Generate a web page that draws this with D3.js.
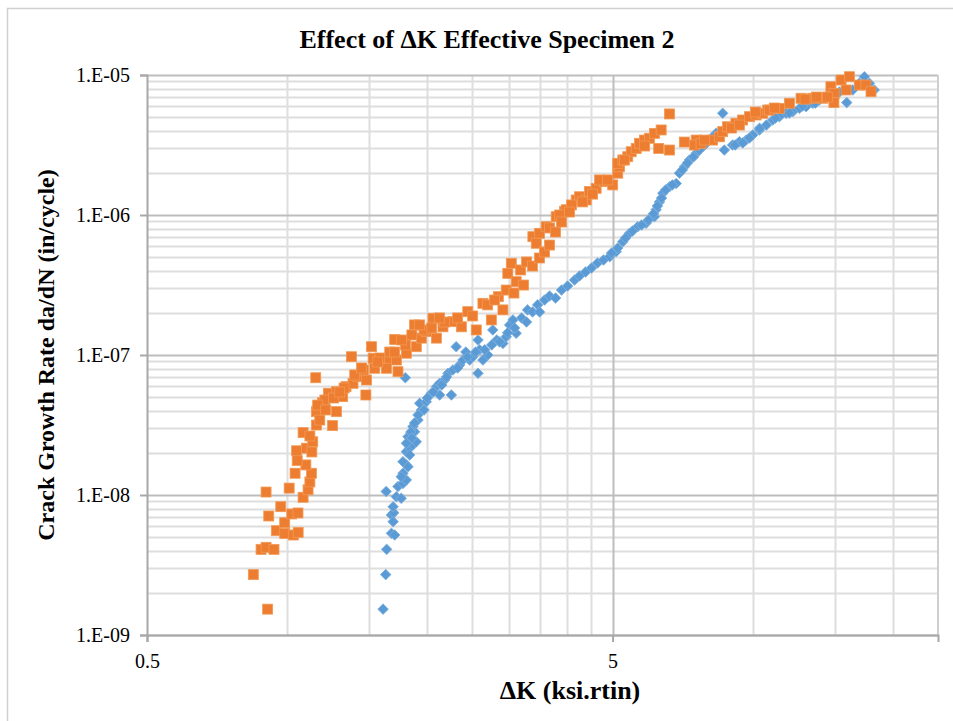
<!DOCTYPE html>
<html>
<head>
<meta charset="utf-8">
<script src="https://cdn.jsdelivr.net/npm/d3@7"></script>
<style>
  html, body { margin: 0; padding: 0; background: #fff; }
  svg { display: block; }
</style>
</head>
<body>
<svg id="chart" width="953" height="721"></svg>
<script>
// Crack growth data: [ΔK (ksi·√in), da/dN (in/cycle)]
const specimenBlue = [
  [1.607,1.53e-9],[1.628,2.70e-9],[1.636,4.09e-9],[1.632,1.06e-8],[1.675,5.32e-9],[1.702,5.18e-9],
  [1.675,7.2e-9],[1.694,7.47e-9],[1.689,8.25e-9],[1.689,6.45e-9],[1.716,9.72e-9],[1.758,9.47e-9],
  [1.73,1.15e-8],[1.773,1.21e-8],[1.803,1.28e-8],[1.773,1.43e-8],[1.758,1.35e-8],[1.803,1.64e-8],
  [1.773,1.73e-8],[1.818,1.59e-8],[1.803,2.04e-8],[1.833,2.16e-8],[1.863,2.28e-8],[1.894,2.40e-8],
  [1.794,6.88e-8],[1.942,4.05e-8],[1.926,4.52e-8],[1.99,4.64e-8],[2.041,5.33e-8],[2.092,5.94e-8],
  [2.126,6.28e-8],[2.18,6.63e-8],[2.216,7.4e-8],[2.253,5.18e-8],[2.27,7.82e-8],[2.307,1.146e-7],
  [2.347,8.48e-8],[2.386,9.21e-8],[2.466,9.21e-8],[2.506,9.72e-8],[2.57,7.4e-8],[2.57,1.28e-7],
  [2.633,9.21e-8],[2.698,1.0e-7],[2.765,1.51e-7],[2.907,1.21e-7],[2.955,1.35e-7],[3.005,1.64e-7],
  [3.055,1.78e-7],[3.104,1.43e-7],[1.878,2.83e-8],[1.863,3.08e-8],[1.818,2.61e-8],[1.803,2.34e-8],
  [3.188,1.84e-7],[3.284,2.1e-7],[3.366,2.03e-7],[3.452,2.28e-7],[3.572,2.47e-7],[3.661,2.64e-7],
  [3.771,2.55e-7],[3.885,2.91e-7],[4.003,3.11e-7],[4.143,3.43e-7],[4.246,3.67e-7],[4.375,3.92e-7],
  [4.505,4.18e-7],[4.641,4.54e-7],[4.781,4.77e-7],[3.485,2.03e-7],[3.267,1.72e-7],
  [4.93,5.04e-7],[5.09,5.47e-7],[5.26,6.45e-7],[5.437,7.4e-7],[5.66,8.25e-7],[5.9,8.73e-7],
  [6.15,9.72e-7],[6.2,1.09e-6],[6.305,1.24e-6],[6.41,1.43e-6],[6.624,1.59e-6],[6.85,1.68e-6],
  [6.96,1.99e-6],[7.13,2.21e-6],[7.31,2.47e-6],[7.56,2.76e-6],[7.81,3.08e-6],[8.07,3.43e-6],
  [8.34,3.83e-6],[8.62,5.33e-6],[8.69,2.91e-6],[9.05,3.16e-6],[9.36,3.34e-6],[9.68,3.43e-6],
  [10.0,3.73e-6],[10.34,4.05e-6],[10.7,4.39e-6],[10.34,4.16e-6],[11.04,4.77e-6],[11.41,5.04e-6],
  [11.8,5.33e-6],[12.19,5.47e-6],[12.6,5.78e-6],[13.02,5.94e-6],[13.46,6.28e-6],[13.9,6.63e-6],
  [14.37,7.0e-6],[14.84,7.4e-6],[15.92,6.35e-6],[16.4,7.82e-6],[16.94,8.73e-6],[17.37,9.72e-6],
  [17.8,8.73e-6],[18.24,7.82e-6],[2.42,1.05e-7],[2.591,1.09e-7],[2.82,1.28e-7],[2.126,5.18e-8],
  [1.968,4.05e-8],[1.91,3.43e-8],[1.843,2.82e-8],
  [4.975,5.35e-7],[5.13,5.81e-7],[5.33,6.85e-7],[5.52,7.69e-7],[5.77,8.48e-7],[5.97,9.21e-7],
  [6.12,1.02e-6],[6.24,1.16e-6],[6.37,1.32e-6],[6.5,1.51e-6],[6.72,1.64e-6],[7.06,2.1e-6],
  [7.24,2.35e-6],[7.46,2.6e-6],[7.68,2.91e-6],[7.92,3.21e-6],[8.2,3.6e-6],[9.17,3.16e-6],
  [9.52,3.27e-6],[9.84,3.55e-6],[2.324,8.08e-8],[2.44,9.68e-8],[2.54,1.05e-7],[2.656,1.09e-7],
  [2.75,1.18e-7],[2.86,1.24e-7],[2.975,1.44e-7],[3.08,1.56e-7],[2.0,4.93e-8],[2.06,5.44e-8],
  [2.148,6.1e-8],[2.2,6.96e-8],[1.833,1.93e-8],[1.853,2.55e-8],[1.878,3.27e-8],[1.91,3.73e-8],
  [11.19,4.93e-6],[11.99,5.35e-6],[12.79,6.0e-6],[13.63,6.3e-6],[14.6,7.08e-6],[15.35,7.56e-6]
];

const specimenOrange = [
  [0.908,1.53e-9],[0.846,2.70e-9],[0.879,4.09e-9],[0.901,4.23e-9],[0.937,4.09e-9],[0.948,5.56e-9],
  [0.988,5.32e-9],[1.031,5.18e-9],[1.056,5.41e-9],[0.988,6.34e-9],[0.913,7.08e-9],[0.969,8.25e-9],
  [1.023,7.32e-9],[1.055,7.44e-9],[0.901,1.05e-8],[1.01,1.12e-8],[1.082,9.63e-9],[1.109,1.09e-8],
  [1.119,1.24e-8],[1.128,1.43e-8],[1.04,1.43e-8],[1.097,1.64e-8],[1.051,1.76e-8],[1.048,2.07e-8],
  [1.1,2.16e-8],[1.135,2.40e-8],[1.082,2.79e-8],[1.156,3.16e-8],[1.252,3.13e-8],[1.156,3.94e-8],
  [1.191,4.56e-8],[1.226,5.33e-8],[1.276,3.94e-8],[1.152,6.88e-8],[1.276,5.47e-8],[1.316,5.04e-8],
  [1.338,5.94e-8],[1.374,9.72e-8],[1.385,6.28e-8],[1.419,7.0e-8],[1.48,6.63e-8],[1.476,5.18e-8],
  [1.458,7.82e-8],[1.518,1.146e-7],[1.53,9.47e-8],[1.542,8.04e-8],[1.634,9.21e-8],[1.634,8.04e-8],
  [1.702,1.29e-7],[1.73,7.6e-8],[1.716,9.21e-8],[1.803,1.03e-7],[1.894,1.146e-7],[1.878,1.64e-7],
  [1.942,1.32e-7],[1.99,1.47e-7],[2.057,1.83e-7],[2.092,1.32e-7],[2.161,1.59e-7],[2.27,1.73e-7],
  [2.367,1.59e-7],[2.443,2.04e-7],[2.548,1.51e-7],[2.633,2.34e-7],[2.745,1.78e-7],[2.842,2.61e-7],
  [2.907,2.1e-7],[2.955,2.91e-7],[2.978,3.83e-7],[3.03,4.52e-7],[3.104,3.34e-7],
  [3.173,4.05e-7],[3.267,4.62e-7],[3.366,4.32e-7],[3.485,4.93e-7],[3.22,3.16e-7],[3.07,2.77e-7],
  [3.371,7.0e-7],[3.485,7.4e-7],[3.428,6.28e-7],[3.6,8.25e-7],[3.783,9.72e-7],[3.942,1.06e-6],
  [3.975,1.09e-6],[4.176,1.28e-6],[4.246,1.35e-6],[4.39,1.28e-6],[4.461,1.47e-6],[4.609,1.55e-6],
  [4.803,1.73e-6],[5.003,1.64e-6],[5.13,1.99e-6],[5.175,2.21e-6],[5.13,2.34e-6],[5.26,2.47e-6],
  [5.39,2.61e-6],[5.483,2.83e-6],[5.62,2.99e-6],[5.712,3.25e-6],[5.855,3.43e-6],[6.0,3.53e-6],
  [6.15,3.83e-6],[6.358,4.05e-6],[6.28,2.99e-6],[6.624,2.91e-6],[6.624,5.27e-6],[7.56,3.43e-6],
  [7.5,3.16e-6],[7.745,3.25e-6],[8.2,3.43e-6],[8.48,3.62e-6],[8.62,3.94e-6],[8.83,4.27e-6],
  [9.2,4.52e-6],[9.51,4.77e-6],[9.84,5.04e-6],[10.17,5.18e-6],[10.51,5.33e-6],[10.77,5.62e-6],
  [10.86,5.62e-6],[11.41,5.78e-6],[11.99,6.28e-6],[12.7,6.82e-6],[13.46,6.82e-6],[14.13,6.82e-6],
  [14.72,8.25e-6],[14.96,7.4e-6],[14.94,6.35e-6],[15.48,9.21e-6],[16.13,9.72e-6],[15.87,7.82e-6],
  [16.94,8.48e-6],[17.5,8.48e-6],[17.95,7.6e-6],[12.95,6.72e-6],[13.7,6.96e-6],[14.46,6.96e-6],
  [11.13,5.81e-6],[10.13,5.44e-6],[4.08,1.18e-6],[3.847,1.0e-6],[3.661,8.08e-7],[4.687,1.78e-6],
  [1.795,1.18e-7],[1.968,1.51e-7],[2.18,1.72e-7],[2.324,1.84e-7],[2.503,1.9e-7],[2.695,2.28e-7],
  [2.79,2.47e-7],[1.661,1.05e-7],[1.581,9.52e-8],[1.325,5.81e-8],[1.205,4.77e-8],[1.163,4.39e-8],
  [3.572,5.44e-7],[3.661,6.1e-7],[3.77,7.56e-7],[3.885,8.91e-7],[4.04,1.05e-6],[4.31,1.24e-6],
  [4.53,1.41e-6],[4.88,1.78e-6],[5.3,2.47e-6],[5.86,3.11e-6],[1.119,2.64e-8],[1.175,3.43e-8],
  [1.21,4.05e-8],[1.13,2.03e-8],[1.258,4.93e-8],[1.297,5.44e-8],[1.397,7.2e-8],[1.445,8.08e-8],
  [1.565,8.91e-8],[1.702,1.05e-7],[1.762,1.28e-7],[1.853,1.39e-7],[1.926,1.64e-7],[2.044,1.56e-7],
  [2.126,1.84e-7],[7.13,3.32e-6],[7.88,3.43e-6],[9.0,4.18e-6],[9.36,4.39e-6]
];

// Axis ranges and tick labels
const xDomain = [0.5, 25];
const yDomain = [1e-9, 1e-5];
const xMajorTicks = [0.5, 5];
const xMinorTicks = [1, 1.5, 2, 2.5, 3, 3.5, 4, 4.5, 10, 15, 20];
const xTickLabels = ["0.5", "5"];
const yMajorTicks = [1e-9, 1e-8, 1e-7, 1e-6, 1e-5];
const yTickLabels = ["1.E-09", "1.E-08", "1.E-07", "1.E-06", "1.E-05"];

const chartTitle = "Effect of \u0394K Effective Specimen 2";
const xTitle = "\u0394K (ksi.rtin)";
const yTitle = "Crack Growth Rate da/dN (in/cycle)";

const plot = { left: 147, top: 75, right: 938, bottom: 635 };
const serif = "'Liberation Serif', 'Times New Roman', serif";

const svg = d3.select("#chart");

// outer chart frame
svg.append("rect")
  .attr("x", 7.5).attr("y", 8.5)
  .attr("width", 960).attr("height", 720)
  .attr("fill", "#fff").attr("stroke", "#d0d0d0").attr("stroke-width", 1.5);

const x = d3.scaleLog().domain(xDomain).range([plot.left, plot.right]);
const y = d3.scaleLog().domain(yDomain).range([plot.bottom, plot.top]);

// minor y values: 2..9 × 10^n
const yMinorTicks = [];
yMajorTicks.slice(0, -1).forEach(p => { for (let k = 2; k <= 9; k++) yMinorTicks.push(k * p); });

const grid = svg.append("g");
grid.selectAll(".ymin").data(yMinorTicks).join("line")
  .attr("x1", plot.left).attr("x2", plot.right)
  .attr("y1", d => Math.round(y(d)) + 0.5).attr("y2", d => Math.round(y(d)) + 0.5)
  .attr("stroke", "#dedede").attr("stroke-width", 2);
grid.selectAll(".xmin").data(xMinorTicks).join("line")
  .attr("y1", plot.top).attr("y2", plot.bottom)
  .attr("x1", d => Math.round(x(d)) + 0.5).attr("x2", d => Math.round(x(d)) + 0.5)
  .attr("stroke", "#dedede").attr("stroke-width", 2);
grid.selectAll(".ymaj").data(yMajorTicks).join("line")
  .attr("x1", plot.left).attr("x2", plot.right)
  .attr("y1", d => Math.round(y(d)) + 0.5).attr("y2", d => Math.round(y(d)) + 0.5)
  .attr("stroke", "#bdbdbd").attr("stroke-width", 2);
grid.selectAll(".xmaj").data(xMajorTicks.slice(1)).join("line")
  .attr("y1", plot.top).attr("y2", plot.bottom)
  .attr("x1", d => Math.round(x(d)) + 0.5).attr("x2", d => Math.round(x(d)) + 0.5)
  .attr("stroke", "#bdbdbd").attr("stroke-width", 2);
// right border of plot area
grid.append("line")
  .attr("x1", plot.right).attr("x2", plot.right)
  .attr("y1", plot.top).attr("y2", plot.bottom)
  .attr("stroke", "#cfcfcf").attr("stroke-width", 2);

// axes
const yAxis = d3.axisLeft(y).tickValues(yMajorTicks)
  .tickFormat((d, i) => yTickLabels[i]).tickSize(7).tickPadding(10);
const gy = svg.append("g").attr("transform", `translate(${plot.left},0)`).call(yAxis);
gy.select(".domain").attr("stroke", "#a8a8a8").attr("stroke-width", 2);
gy.selectAll(".tick line").attr("stroke", "#a8a8a8").attr("stroke-width", 2);
gy.selectAll("text").attr("font-family", serif).attr("font-size", 20).attr("fill", "#000");

const xAxis = d3.axisBottom(x).tickValues(xMajorTicks)
  .tickFormat((d, i) => xTickLabels[i]).tickSize(7).tickPadding(12);
const gx = svg.append("g").attr("transform", `translate(0,${plot.bottom})`).call(xAxis);
gx.select(".domain").attr("stroke", "#a8a8a8").attr("stroke-width", 2);
gx.selectAll(".tick line").attr("stroke", "#a8a8a8").attr("stroke-width", 2);
gx.selectAll("text").attr("font-family", serif).attr("font-size", 20).attr("fill", "#000");

// data markers: blue diamonds, then orange squares on top
const diamond = d3.symbol(d3.symbolSquare, 56);
svg.append("g").selectAll("path").data(specimenBlue).join("path")
  .attr("d", diamond)
  .attr("transform", d => `translate(${x(d[0])},${y(d[1])}) rotate(45)`)
  .attr("fill", "#5B9BD5").attr("stroke", "#7DB0DE").attr("stroke-width", 0.8);

const sq = 10;
svg.append("g").selectAll("rect").data(specimenOrange).join("rect")
  .attr("x", d => x(d[0]) - sq / 2).attr("y", d => y(d[1]) - sq / 2)
  .attr("width", sq).attr("height", sq)
  .attr("fill", "#ED7D31").attr("stroke", "#F29A55").attr("stroke-width", 0.8);

// titles
svg.append("text").attr("x", 487).attr("y", 48).attr("text-anchor", "middle")
  .attr("font-family", serif).attr("font-weight", "bold").attr("font-size", 26)
  .text(chartTitle);
svg.append("text").attr("x", 570).attr("y", 699).attr("text-anchor", "middle")
  .attr("font-family", serif).attr("font-weight", "bold").attr("font-size", 26)
  .text(xTitle);
svg.append("text").attr("transform", "translate(54,355) rotate(-90)").attr("text-anchor", "middle")
  .attr("font-family", serif).attr("font-weight", "bold").attr("font-size", 24)
  .text(yTitle);
</script>
</body>
</html>
